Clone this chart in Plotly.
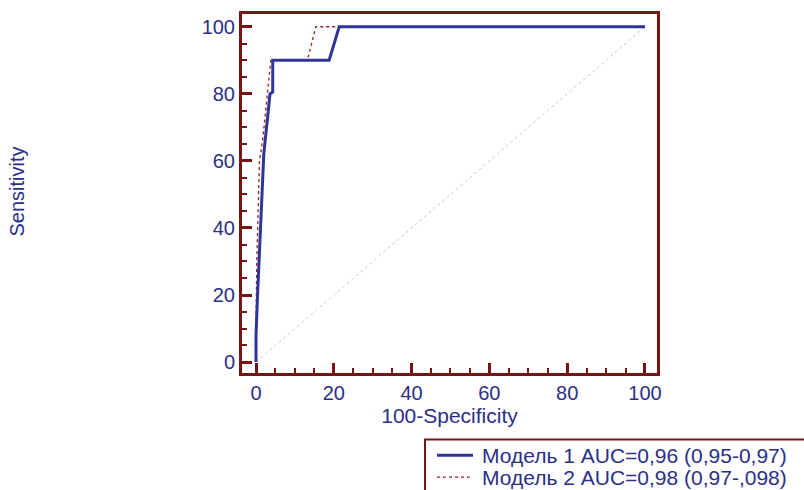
import plotly.graph_objects as go

# ROC curve points (100-Specificity, Sensitivity)
model1_fpr = [0, 0, 0.4, 0.8, 1.3, 2.0, 3.6, 4.3, 4.3, 18.8, 21.4, 100]
model1_tpr = [0, 8, 20, 30, 45, 62, 80, 80.5, 90, 90, 100, 100]
model2_fpr = [0, 0, 0.2, 0.5, 0.9, 1.7, 3.8, 13.2, 15.4, 100]
model2_tpr = [0, 10, 30, 45, 60, 66, 90, 90, 100, 100]
diag = [0, 100]

legend_labels = ["Модель 1 AUC=0,96 (0,95-0,97)", "Модель 2 AUC=0,98 (0,97-,098)"]

W, H = 804, 490
L, R, T, B = 242, 147, 11, 117
frame = "#7a1414"
ink = "#2b2f86"
blue = "#2e3596"
red = "#9c1f1f"
font = "Liberation Sans, Arial, sans-serif"


def px(x):
    return (x - L) / (W - L - R)


def py(y):
    return (H - B - y) / (H - T - B)


fig = go.Figure()
fig.add_trace(go.Scatter(x=diag, y=diag, mode="lines",
                         line=dict(color="#c8c8c8", width=1, dash="dot"),
                         showlegend=False, hoverinfo="skip"))
fig.add_trace(go.Scatter(x=model2_fpr, y=model2_tpr, mode="lines",
                         line=dict(color=red, width=1.3, dash="dot"),
                         showlegend=False))
fig.add_trace(go.Scatter(x=model1_fpr, y=model1_tpr, mode="lines",
                         line=dict(color=blue, width=3),
                         showlegend=False))

axis_common = dict(
    showline=True, linecolor=frame, linewidth=3, mirror=True,
    ticks="inside", ticklen=10, tickwidth=2.5, tickcolor=frame,
    showgrid=False, zeroline=False,
    tickfont=dict(family=font, size=20, color=ink),
    tick0=0, dtick=20,
    minor=dict(ticks="inside", ticklen=5, tickwidth=1.5, tickcolor=frame,
               dtick=5, tick0=0, showgrid=False),
)

fig.update_xaxes(range=[-3.6, 103.1], **axis_common,
                 title=dict(text="100-Specificity", standoff=3,
                            font=dict(family=font, size=21, color=ink)))
fig.update_yaxes(range=[-3.25, 103.8], **axis_common)

# legend box and entries
fig.add_shape(type="rect", xref="paper", yref="paper",
              x0=px(425), x1=px(812), y0=py(498), y1=py(440),
              line=dict(color=frame, width=2), fillcolor="white")
fig.add_shape(type="line", xref="paper", yref="paper",
              x0=px(437), x1=px(473), y0=py(456), y1=py(456),
              line=dict(color=blue, width=3))
fig.add_shape(type="line", xref="paper", yref="paper",
              x0=px(437), x1=px(473), y0=py(478), y1=py(478),
              line=dict(color=red, width=1.2, dash="dot"))
for i, lab in enumerate(legend_labels):
    fig.add_annotation(text=lab, xref="paper", yref="paper",
                       x=px(480), y=py(456 + 22 * i), xanchor="left", yanchor="middle",
                       showarrow=False, font=dict(family=font, size=21, color=ink))

fig.add_annotation(text="Sensitivity", xref="paper", yref="paper",
                   x=px(17), y=py(190), textangle=-90, showarrow=False,
                   xanchor="center", yanchor="middle",
                   font=dict(family=font, size=20, color=ink))

fig.update_layout(width=W, height=H, margin=dict(l=L, r=R, t=T, b=B),
                  paper_bgcolor="white", plot_bgcolor="white")

fig.write_html("out.html")
